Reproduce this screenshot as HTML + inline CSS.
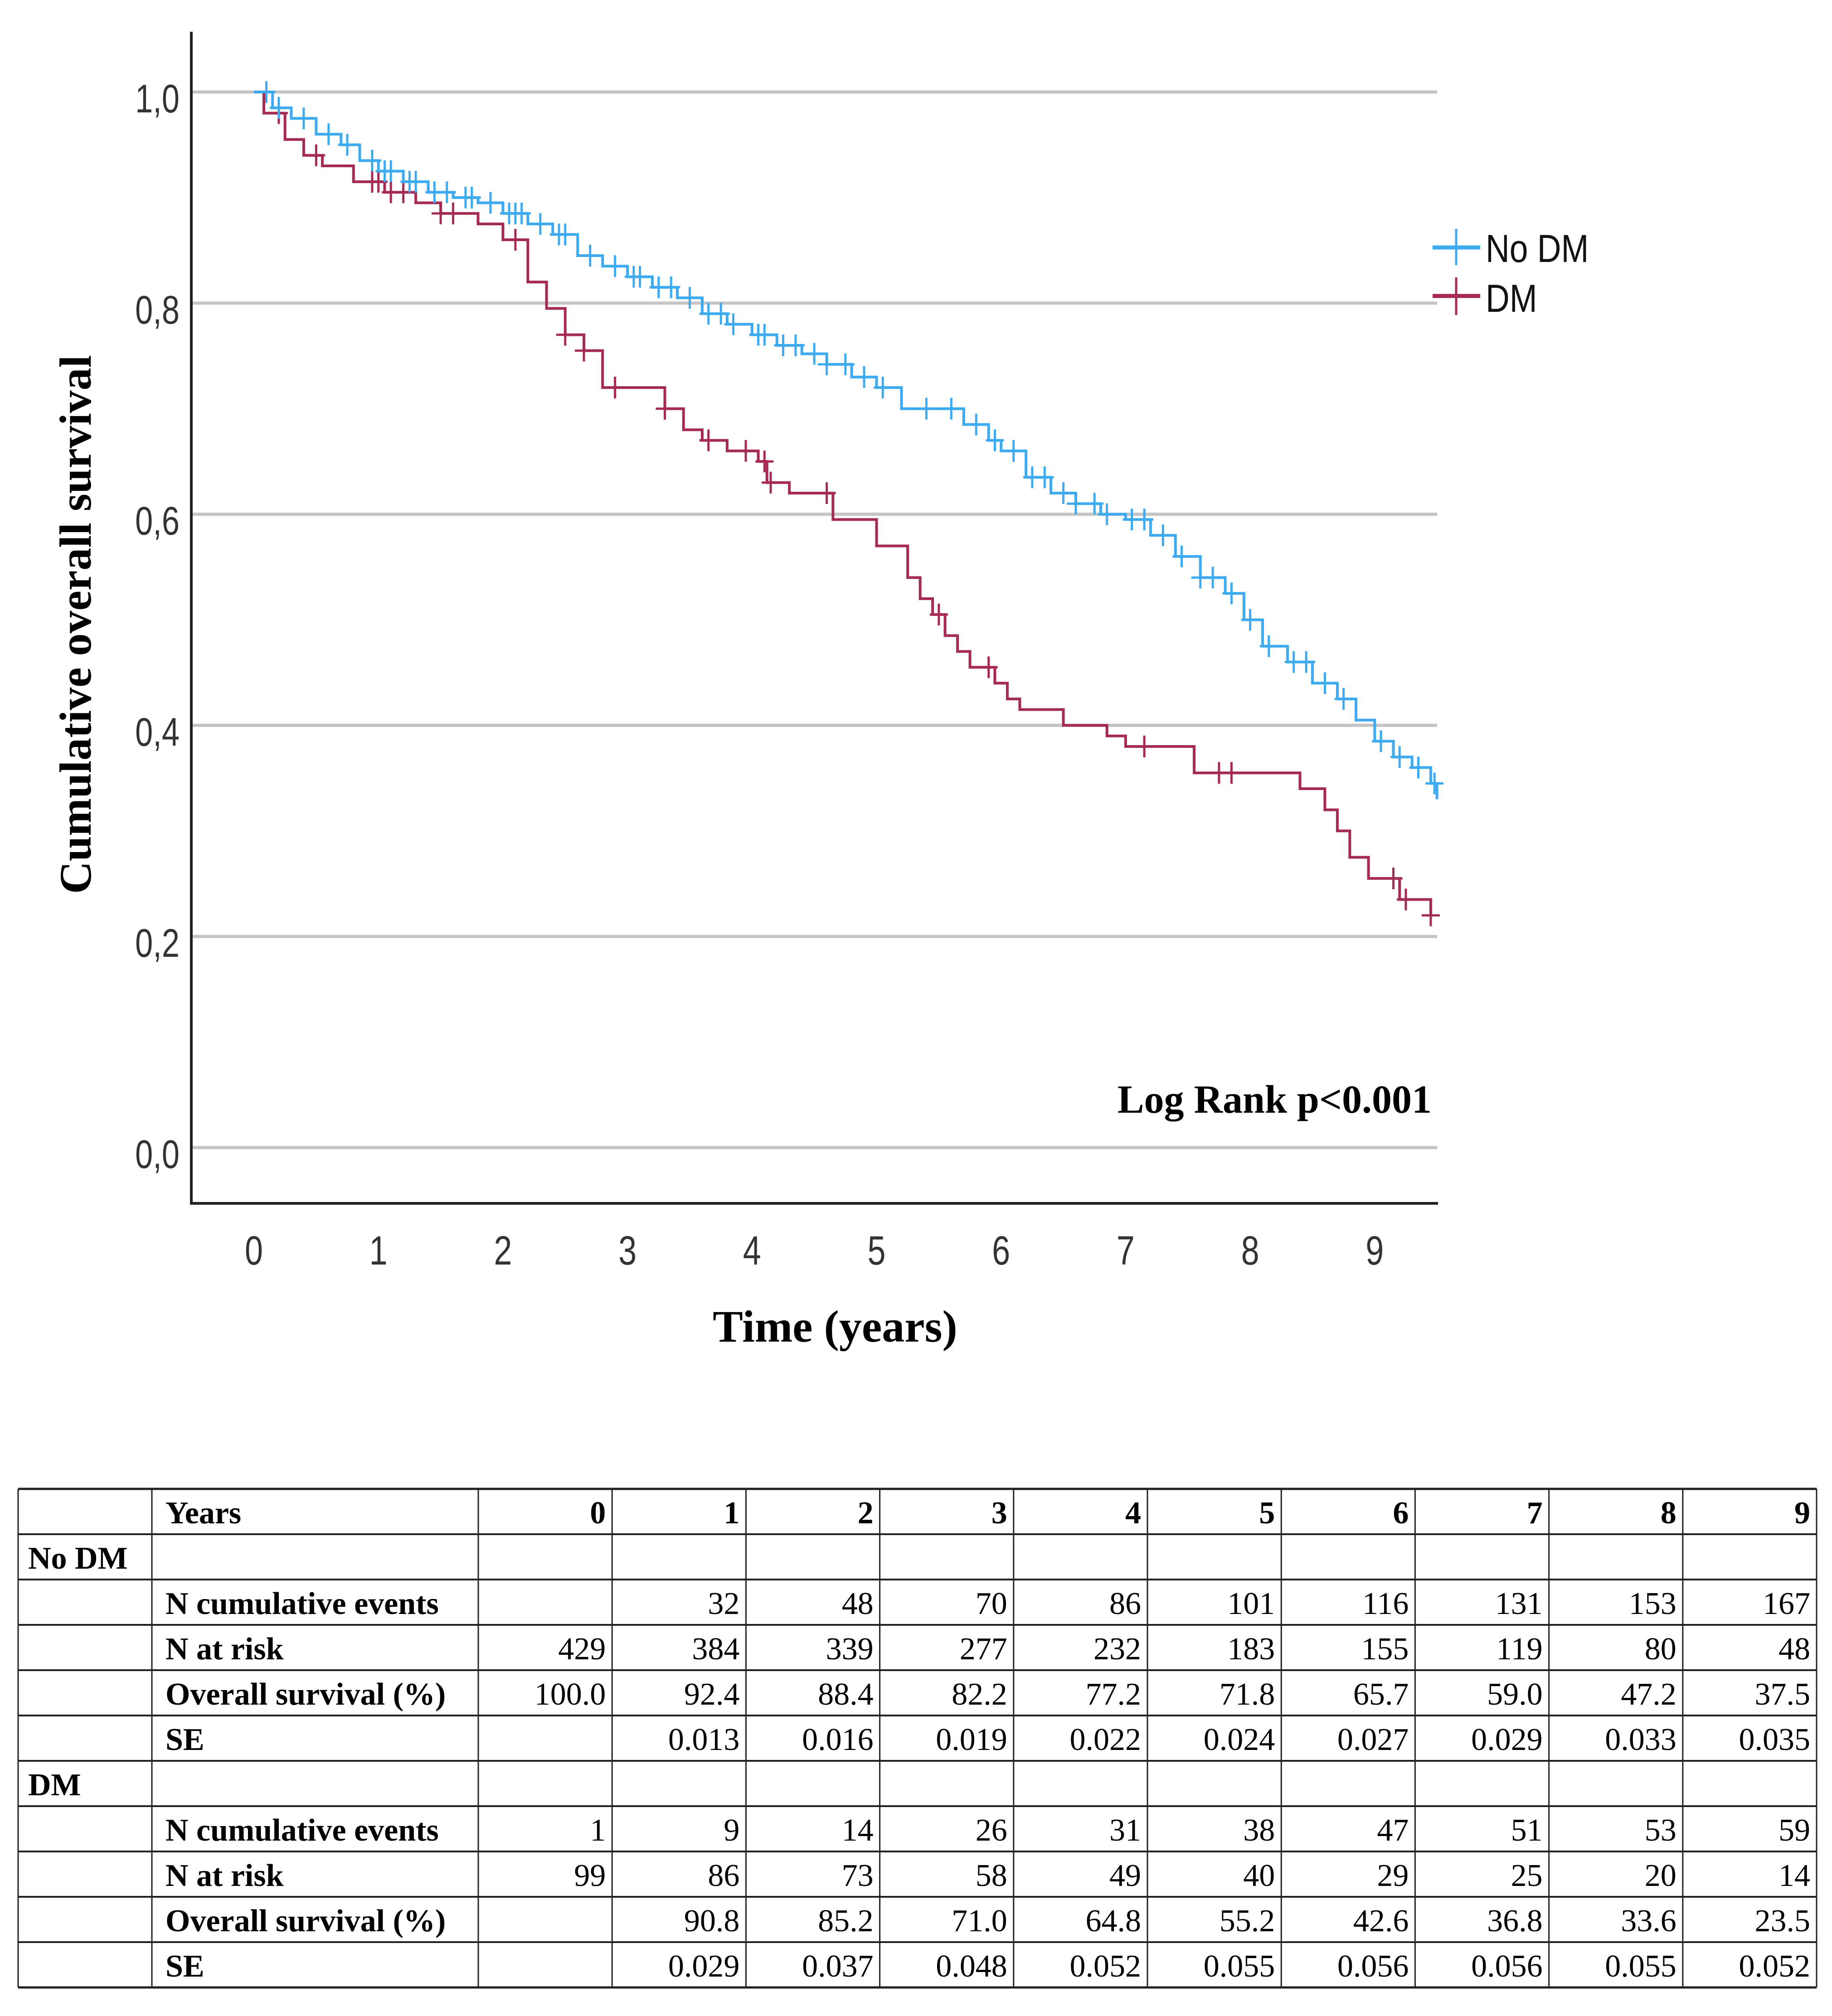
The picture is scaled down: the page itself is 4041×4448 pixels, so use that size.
<!DOCTYPE html>
<html><head><meta charset="utf-8"><style>
html,body{margin:0;padding:0;background:#fff;}
body{width:4041px;height:4448px;position:relative;overflow:hidden;}
svg{position:absolute;left:0;top:0;}
</style></head>
<body>
<svg id="chart" width="4041" height="4448" viewBox="0 0 4041 4448" xmlns="http://www.w3.org/2000/svg">
  <g id="grid"></g>
  <g id="yticks"></g>
  <g id="xticks"></g>
  <g id="series"></g>
  <line x1="422" y1="70" x2="422" y2="2657" stroke="#222" stroke-width="6"/>
  <line x1="419" y1="2655" x2="3172" y2="2655" stroke="#222" stroke-width="6"/>
  <text x="0" y="0" transform="translate(200,1378) rotate(-90)" text-anchor="middle" font-family="Liberation Serif, serif" font-weight="bold" font-size="100">Cumulative overall survival</text>
  <text x="1842" y="2960" text-anchor="middle" font-family="Liberation Serif, serif" font-weight="bold" font-size="100">Time (years)</text>
  <text x="3158" y="2455" text-anchor="end" font-family="Liberation Serif, serif" font-weight="bold" font-size="88">Log Rank p&lt;0.001</text>
  <g>
    <g>
      <line x1="3160" y1="546" x2="3265" y2="546" stroke="#3eaaf0" stroke-width="9"/>
      <line x1="3212" y1="505" x2="3212" y2="585" stroke="#3eaaf0" stroke-width="5"/>
      <text x="3277" y="578" font-family="Liberation Sans, sans-serif" font-size="86" fill="#111" transform="translate(3277,0) scale(0.85,1) translate(-3277,0)">No DM</text>
    </g>
    <g>
      <line x1="3160" y1="653" x2="3265" y2="653" stroke="#a62a56" stroke-width="9"/>
      <line x1="3212" y1="612" x2="3212" y2="695" stroke="#a62a56" stroke-width="5"/>
      <text x="3277" y="688" font-family="Liberation Sans, sans-serif" font-size="86" fill="#111" transform="translate(3277,0) scale(0.85,1) translate(-3277,0)">DM</text>
    </g>
  </g>
  <g id="table"></g>
</svg>
<script>
var yTickValues=[0,0.2,0.4,0.6,0.8,1.0];
var yTickLabels=["0,0","0,2","0,4","0,6","0,8","1,0"];
var xTickValues=[0,1,2,3,4,5,6,7,8,9];
var noDmTimes=[0,0.15,0.3,0.5,0.7,0.85,1.0,1.2,1.4,1.6,1.8,2.0,2.2,2.4,2.6,2.8,3.0,3.2,3.4,3.6,3.8,4.0,4.2,4.4,4.6,4.8,5.0,5.2,5.5,5.7,5.9,6.0,6.2,6.4,6.6,6.8,7.0,7.2,7.4,7.6,7.8,7.95,8.1,8.3,8.5,8.7,8.85,9.0,9.15,9.3,9.45,9.5];
var noDmSurv=[1.0,0.985,0.975,0.96,0.95,0.935,0.925,0.915,0.905,0.9,0.895,0.885,0.875,0.865,0.845,0.835,0.825,0.815,0.805,0.79,0.78,0.77,0.76,0.752,0.742,0.73,0.72,0.70,0.70,0.685,0.67,0.66,0.635,0.62,0.61,0.60,0.595,0.58,0.56,0.54,0.525,0.50,0.475,0.46,0.44,0.425,0.405,0.385,0.37,0.36,0.345,0.33];
var noDmCensor=[0.1,0.2,0.4,0.6,0.75,0.95,1.05,1.1,1.25,1.3,1.45,1.55,1.7,1.75,1.9,2.05,2.1,2.15,2.3,2.45,2.5,2.7,2.9,3.05,3.1,3.25,3.35,3.5,3.65,3.75,3.85,4.05,4.1,4.25,4.35,4.5,4.6,4.75,4.9,5.05,5.4,5.6,5.8,5.95,6.1,6.25,6.35,6.5,6.6,6.75,6.85,7.05,7.15,7.3,7.45,7.6,7.7,7.85,8.0,8.15,8.35,8.45,8.6,8.75,9.05,9.2,9.35,9.48];
var dmTimes=[0,0.08,0.25,0.4,0.55,0.8,1.05,1.3,1.5,1.8,2.0,2.2,2.35,2.5,2.65,2.8,3.3,3.45,3.6,3.8,4.05,4.12,4.3,4.6,4.65,5.0,5.25,5.35,5.45,5.55,5.65,5.75,5.95,6.05,6.15,6.5,6.85,7.0,7.55,8.4,8.6,8.7,8.8,8.95,9.2,9.45];
var dmSurv=[1.0,0.98,0.955,0.94,0.93,0.915,0.905,0.895,0.885,0.875,0.86,0.82,0.795,0.77,0.755,0.72,0.70,0.68,0.67,0.66,0.65,0.63,0.62,0.62,0.595,0.57,0.54,0.52,0.505,0.485,0.47,0.455,0.44,0.425,0.415,0.40,0.39,0.38,0.355,0.34,0.32,0.3,0.275,0.255,0.235,0.22];
var dmCensor=[0.2,0.5,0.95,1.0,1.1,1.2,1.5,1.6,2.1,2.5,2.65,2.9,3.3,3.65,3.95,4.1,4.15,4.6,5.5,5.9,7.15,7.75,7.85,9.15,9.25,9.45];

var tableYears=["0","1","2","3","4","5","6","7","8","9"];
var noDmEvents=["","32","48","70","86","101","116","131","153","167"];
var noDmRisk=["429","384","339","277","232","183","155","119","80","48"];
var noDmOS=["100.0","92.4","88.4","82.2","77.2","71.8","65.7","59.0","47.2","37.5"];
var noDmSE=["","0.013","0.016","0.019","0.022","0.024","0.027","0.029","0.033","0.035"];
var dmEvents=["1","9","14","26","31","38","47","51","53","59"];
var dmRisk=["99","86","73","58","49","40","29","25","20","14"];
var dmOS=["","90.8","85.2","71.0","64.8","55.2","42.6","36.8","33.6","23.5"];
var dmSE=["","0.029","0.037","0.048","0.052","0.055","0.056","0.056","0.055","0.052"];

var NS="http://www.w3.org/2000/svg";
function X(t){return 560+t*274.7;}
function Y(s){return 2532-s*2329;}
function mk(tag,parent){var e=document.createElementNS(NS,tag);parent.appendChild(e);return e;}
var grid=document.getElementById('grid'),yt=document.getElementById('yticks'),xt=document.getElementById('xticks'),ser=document.getElementById('series'),tb=document.getElementById('table');
yTickValues.forEach(function(v,i){
  var l=mk('line',grid);
  
  
  l.setAttribute('x1',425);l.setAttribute('x2',3170);l.setAttribute('y1',Y(v));l.setAttribute('y2',Y(v));
  l.setAttribute('stroke','#c4c4c4');l.setAttribute('stroke-width',7);
  var t=mk('text',yt);
  
  
  t.setAttribute('x',396);t.setAttribute('y',Y(v)+45);t.setAttribute('text-anchor','end');
  t.setAttribute('font-family','Liberation Sans, sans-serif');t.setAttribute('font-size',88);t.setAttribute('fill','#333');
  t.setAttribute('transform','translate(396,0) scale(0.8,1) translate(-396,0)');
  t.textContent=yTickLabels[i];
});
xTickValues.forEach(function(v){
  var t=mk('text',xt);
  
  
  t.setAttribute('x',X(v));t.setAttribute('y',2790);t.setAttribute('text-anchor','middle');
  t.setAttribute('font-family','Liberation Sans, sans-serif');t.setAttribute('font-size',90);t.setAttribute('fill','#333');
  t.setAttribute('transform','translate('+X(v)+',0) scale(0.8,1) translate('+(-X(v))+',0)');
  t.textContent=String(v);
});
function survAt(times,surv,t){var s=surv[0];for(var i=0;i<times.length;i++){if(times[i]<=t)s=surv[i];}return s;}
function drawSeries(times,surv,cens,color,name){
  var d='M'+X(times[0])+','+Y(surv[0]);
  for(var i=1;i<times.length;i++){d+=' H'+X(times[i])+' V'+Y(surv[i]);}
  var p=mk('path',ser);
  
  
  p.setAttribute('d',d);p.setAttribute('fill','none');p.setAttribute('stroke',color);p.setAttribute('stroke-width',6);
  cens.forEach(function(c){
    var cx=X(c),cy=Y(survAt(times,surv,c));
    var m=mk('path',ser);
    
    
    m.setAttribute('d','M'+(cx-20)+','+cy+' H'+(cx+20)+' M'+cx+','+(cy-24)+' V'+(cy+24));
    m.setAttribute('stroke',color);m.setAttribute('stroke-width',5);
  });
}
drawSeries(dmTimes,dmSurv,dmCensor,'#a62a56','dm');
drawSeries(noDmTimes,noDmSurv,noDmCensor,'#3eaaf0','no-dm');

var tTop=3285,rowH=100,colX=[40,335,1055];
for(var c=1;c<=10;c++)colX.push(1055+c*295.2);
var rows=[
 ["","Years",tableYears,true],
 ["No DM","",null],
 ["","N cumulative events",noDmEvents],
 ["","N at risk",noDmRisk],
 ["","Overall survival (%)",noDmOS],
 ["","SE",noDmSE],
 ["DM","",null],
 ["","N cumulative events",dmEvents],
 ["","N at risk",dmRisk],
 ["","Overall survival (%)",dmOS],
 ["","SE",dmSE]];
for(var r=0;r<=rows.length;r++){
  var l=mk('line',tb);
  
  
  l.setAttribute('x1',colX[0]);l.setAttribute('x2',colX[colX.length-1]);l.setAttribute('y1',tTop+r*rowH);l.setAttribute('y2',tTop+r*rowH);
  l.setAttribute('stroke','#222');l.setAttribute('stroke-width',(r==0||r==rows.length)?5:4);
}
colX.forEach(function(x){
  var l=mk('line',tb);
  
  
  l.setAttribute('x1',x);l.setAttribute('x2',x);l.setAttribute('y1',tTop);l.setAttribute('y2',tTop+rows.length*rowH);
  l.setAttribute('stroke','#222');l.setAttribute('stroke-width',3);
});
function tx(x,y,s,anchor,bold,name){
  var t=mk('text',tb);
  
  
  t.setAttribute('x',x);t.setAttribute('y',y);t.setAttribute('text-anchor',anchor);
  t.setAttribute('font-family','Liberation Serif, serif');t.setAttribute('font-size',70);
  if(bold)t.setAttribute('font-weight','bold');
  t.textContent=s;
}
rows.forEach(function(row,r){
  var by=tTop+r*rowH+rowH*0.76;
  if(row[0])tx(colX[0]+22,by,row[0],'start',true,'table-group-label');
  if(row[1])tx(colX[1]+30,by,row[1],'start',true,'table-row-label');
  if(row[2]){row[2].forEach(function(v,i){ if(v!=="")tx(colX[i+3]-14,by,v,'end',!!row[3],'table-cell'); });}
});
</script>
</body></html>
